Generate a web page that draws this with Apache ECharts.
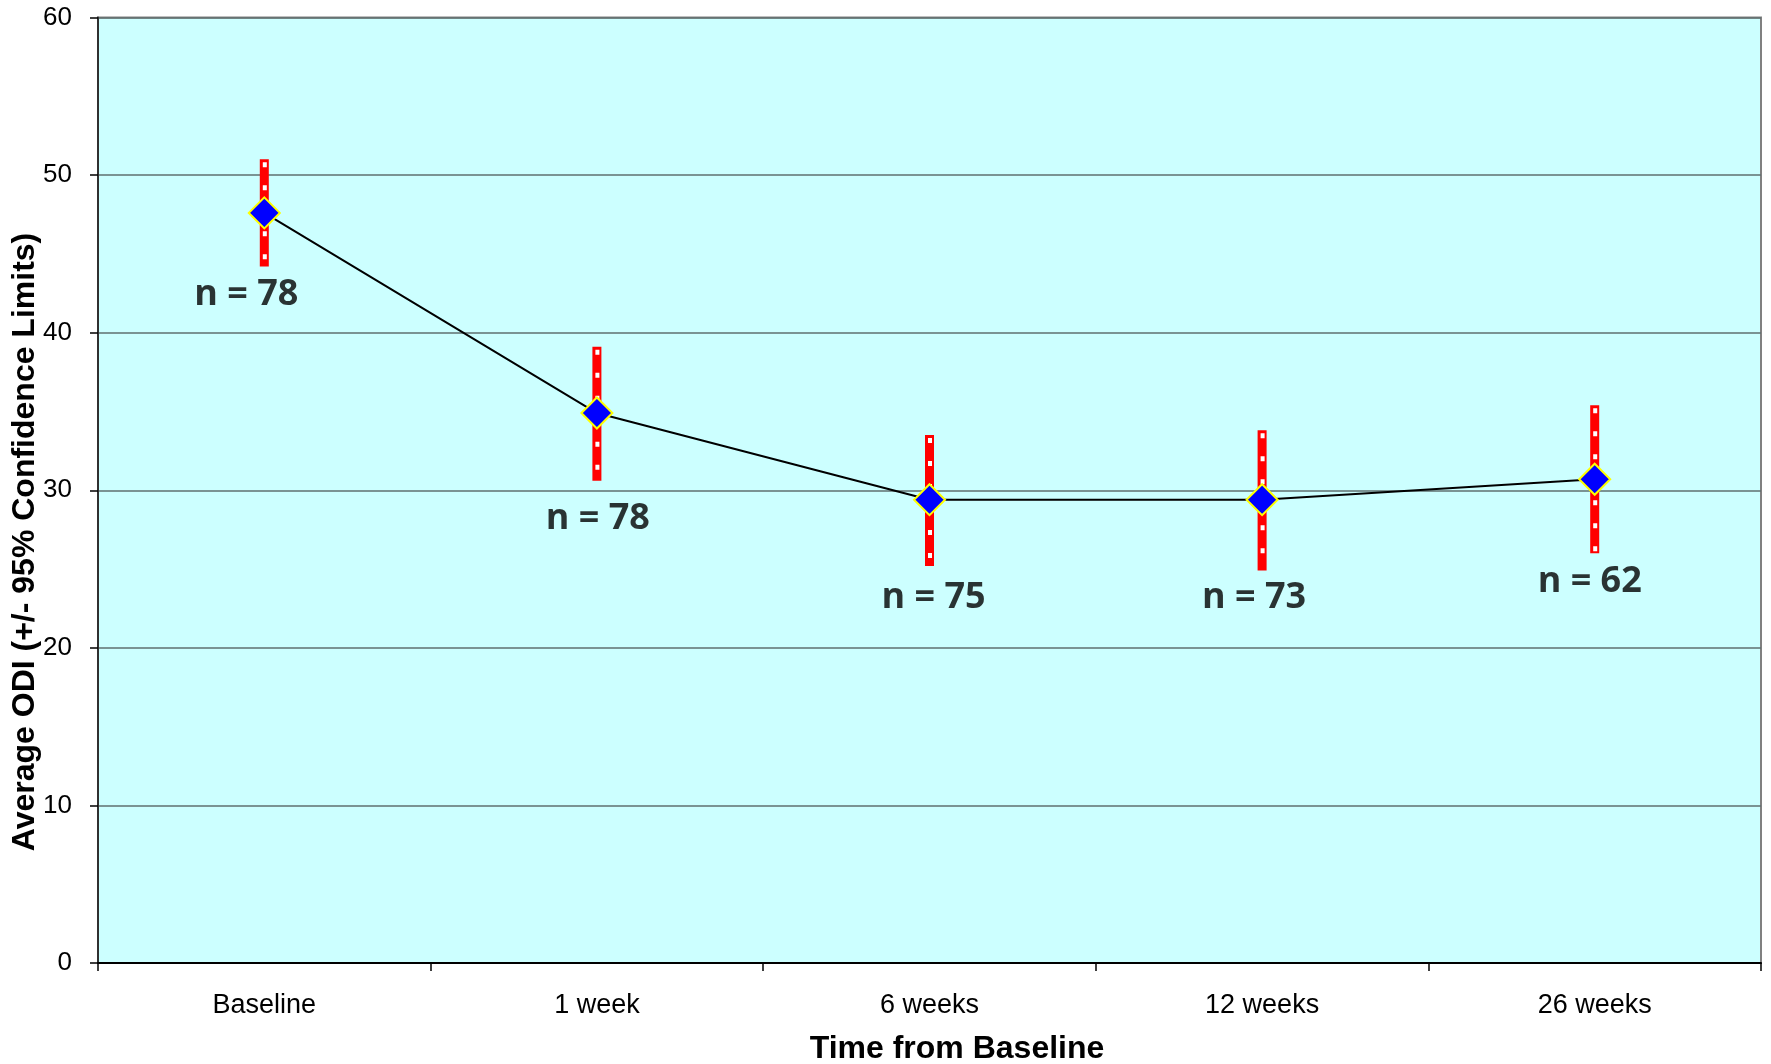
<!DOCTYPE html>
<html>
<head>
<meta charset="utf-8">
<script src="https://cdn.jsdelivr.net/npm/echarts@6/dist/echarts.min.js"></script>
<style>
html,body{margin:0;padding:0;background:#fff;overflow:hidden;}
#chart{width:1771px;height:1064px;}
</style>
</head>
<body>
<div id="chart"></div>
<script>
// ---- data ----
var categories = ['Baseline', '1 week', '6 weeks', '12 weeks', '26 weeks'];
var meanODI = [47.6, 34.9, 29.4, 29.4, 30.7];
var ciLow = [44.2, 30.6, 25.2, 24.9, 26.0];
var ciHigh = [51.0, 39.1, 33.5, 33.8, 35.4];
var nLabels = ['n = 78', 'n = 78', 'n = 75', 'n = 73', 'n = 62'];
var nLabelY = [42.4, 28.2, 23.2, 23.2, 24.2];
var yTicks = [0, 10, 20, 30, 40, 50, 60];
var xTitle = 'Time from Baseline';
var yTitle = 'Average ODI (+/- 95% Confidence Limits)';

var chart = echarts.init(document.getElementById('chart'));

var errData = categories.map(function (c, i) { return [i, ciLow[i], ciHigh[i]]; });
var labelOffsetsX = [-18, 1, 4, -8, -5];
var labelData = categories.map(function (c, i) {
  return {
    value: [i, nLabelY[i]],
    label: { formatter: nLabels[i], offset: [labelOffsetsX[i], 0] }
  };
});

chart.setOption({
  animation: false,
  backgroundColor: '#ffffff',
  grid: {
    left: 98, top: 17.5, right: 10, bottom: 101,
    containLabel: false, outerBoundsMode: 'none',
    show: true, backgroundColor: '#CCFFFF', borderColor: '#808080', borderWidth: 2
  },
  graphic: [
    {
      type: 'text', x: 25, y: 542, rotation: Math.PI / 2,
      style: {
        text: yTitle, fontFamily: 'Liberation Sans', fontWeight: 'bold', fontSize: 32,
        fill: '#000', align: 'center', verticalAlign: 'middle'
      }
    },
    {
      type: 'text', x: 957, y: 1049,
      style: {
        text: xTitle, fontFamily: 'Liberation Sans', fontWeight: 'bold', fontSize: 32,
        fill: '#000', align: 'center', verticalAlign: 'middle'
      }
    }
  ],
  xAxis: {
    type: 'category',
    data: categories,
    boundaryGap: true,
    axisLine: { show: true, lineStyle: { color: '#000', width: 2 } },
    axisTick: { show: true, length: 8, alignWithLabel: false, lineStyle: { color: '#000', width: 1.5 } },
    axisLabel: { fontFamily: 'Liberation Sans', fontSize: 27, color: '#000', margin: 29 },
    splitLine: { show: false }
  },
  yAxis: {
    type: 'value',
    min: yTicks[0], max: yTicks[yTicks.length - 1], interval: 10,
    axisLine: { show: true, lineStyle: { color: '#303030', width: 2 } },
    axisTick: { show: true, length: 8, lineStyle: { color: '#000', width: 1.5 } },
    axisLabel: { fontFamily: 'Liberation Sans', fontSize: 26, color: '#000', margin: 26 },
    splitLine: { show: true, lineStyle: { color: '#5f6f6f', width: 1.5 } }
  },
  series: [
    {
      type: 'custom',
      data: errData,
      z: 3,
      renderItem: function (params, api) {
        var x = api.coord([api.value(0), 0])[0];
        var yl = api.coord([api.value(0), api.value(1)])[1];
        var yh = api.coord([api.value(0), api.value(2)])[1];
        return {
          type: 'group',
          children: [
            { type: 'line', shape: { x1: x, y1: yh, x2: x, y2: yl }, style: { stroke: '#FF0000', lineWidth: 9 } },
            { type: 'line', shape: { x1: x + 0.5, y1: yh + 3, x2: x + 0.5, y2: yl - 2 }, style: { stroke: '#FFFFFF', lineWidth: 4, lineDash: [5, 18] } }
          ]
        };
      }
    },
    {
      type: 'line',
      data: meanODI,
      z: 4,
      symbol: 'diamond',
      symbolSize: 31,
      lineStyle: { color: '#000', width: 2 },
      itemStyle: { color: '#0000FF', borderColor: '#FFFF00', borderWidth: 2 }
    },
    {
      type: 'scatter',
      data: labelData,
      symbolSize: 0,
      z: 5,
      label: {
        show: true, position: 'inside',
        fontFamily: 'Open Sans', fontWeight: 'bold', fontSize: 36, color: '#000'
      }
    }
  ]
});
</script>
</body>
</html>
